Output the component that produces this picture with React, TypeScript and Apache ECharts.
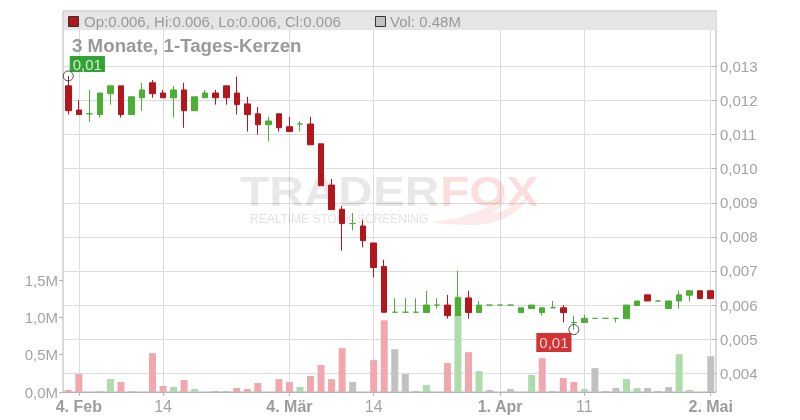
import React, { useEffect, useRef } from 'react';
import * as echarts from 'echarts';

const dates = [
  '2025-02-03', '2025-02-04', '2025-02-05', '2025-02-06', '2025-02-07', '2025-02-10', '2025-02-11', '2025-02-12', '2025-02-13', '2025-02-14',
  '2025-02-17', '2025-02-18', '2025-02-19', '2025-02-20', '2025-02-21', '2025-02-24', '2025-02-25', '2025-02-26', '2025-02-27', '2025-02-28',
  '2025-03-03', '2025-03-04', '2025-03-05', '2025-03-06', '2025-03-07', '2025-03-10', '2025-03-11', '2025-03-12', '2025-03-13', '2025-03-14',
  '2025-03-17', '2025-03-18', '2025-03-19', '2025-03-20', '2025-03-21', '2025-03-24', '2025-03-25', '2025-03-26', '2025-03-27', '2025-03-28',
  '2025-03-31', '2025-04-01', '2025-04-02', '2025-04-03', '2025-04-04', '2025-04-07', '2025-04-08', '2025-04-09', '2025-04-10', '2025-04-11',
  '2025-04-14', '2025-04-15', '2025-04-16', '2025-04-17', '2025-04-22', '2025-04-23', '2025-04-24', '2025-04-25', '2025-04-28', '2025-04-29',
  '2025-04-30', '2025-05-02',
];

const opens = [
  0.01243, 0.01172, 0.01161, 0.01159, 0.01220, 0.01243, 0.01159, 0.01208, 0.01252, 0.01222,
  0.01208, 0.01231, 0.01170, 0.01208, 0.01222, 0.01243, 0.01222, 0.01190, 0.01161, 0.01129,
  0.01161, 0.01123, 0.01131, 0.01131, 0.01073, 0.00952, 0.00881, 0.00839, 0.00832, 0.00782,
  0.00713, 0.00579, 0.00579, 0.00579, 0.00578, 0.00600, 0.00600, 0.00569, 0.00621, 0.00578,
  0.00600, 0.00600, 0.00600, 0.00578, 0.00590, 0.00578, 0.00592, 0.00592, 0.00548, 0.00549,
  0.00561, 0.00561, 0.00561, 0.00560, 0.00599, 0.00630, 0.00612, 0.00590, 0.00612, 0.00629,
  0.00642, 0.00642,
];
const highs = [
  0.01272, 0.01201, 0.01231, 0.01222, 0.01243, 0.01243, 0.01211, 0.01252, 0.01260, 0.01231,
  0.01243, 0.01252, 0.01211, 0.01231, 0.01231, 0.01243, 0.01270, 0.01211, 0.01181, 0.01152,
  0.01161, 0.01152, 0.01140, 0.01152, 0.01073, 0.00970, 0.00891, 0.00870, 0.00850, 0.00782,
  0.00733, 0.00620, 0.00620, 0.00620, 0.00642, 0.00620, 0.00630, 0.00701, 0.00642, 0.00612,
  0.00600, 0.00600, 0.00600, 0.00592, 0.00600, 0.00592, 0.00612, 0.00600, 0.00569, 0.00571,
  0.00561, 0.00561, 0.00561, 0.00600, 0.00612, 0.00630, 0.00612, 0.00612, 0.00642, 0.00642,
  0.00642, 0.00642,
];
const lows = [
  0.01159, 0.01159, 0.01137, 0.01150, 0.01188, 0.01150, 0.01159, 0.01170, 0.01208, 0.01208,
  0.01150, 0.01120, 0.01170, 0.01208, 0.01188, 0.01188, 0.01159, 0.01109, 0.01100, 0.01080,
  0.01109, 0.01109, 0.01109, 0.01070, 0.00950, 0.00880, 0.00760, 0.00819, 0.00769, 0.00681,
  0.00579, 0.00579, 0.00579, 0.00579, 0.00578, 0.00590, 0.00560, 0.00569, 0.00560, 0.00578,
  0.00600, 0.00600, 0.00600, 0.00578, 0.00590, 0.00569, 0.00592, 0.00549, 0.00528, 0.00549,
  0.00561, 0.00561, 0.00549, 0.00560, 0.00599, 0.00612, 0.00612, 0.00590, 0.00590, 0.00610,
  0.00619, 0.00619,
];
const closes = [
  0.01170, 0.01159, 0.01161, 0.01222, 0.01243, 0.01159, 0.01211, 0.01231, 0.01220, 0.01208,
  0.01231, 0.01170, 0.01211, 0.01222, 0.01208, 0.01208, 0.01188, 0.01159, 0.01129, 0.01140,
  0.01120, 0.01109, 0.01131, 0.01070, 0.00950, 0.00880, 0.00839, 0.00839, 0.00789, 0.00710,
  0.00579, 0.00579, 0.00579, 0.00579, 0.00600, 0.00600, 0.00569, 0.00621, 0.00578, 0.00600,
  0.00600, 0.00600, 0.00600, 0.00592, 0.00600, 0.00592, 0.00592, 0.00578, 0.00549, 0.00561,
  0.00561, 0.00561, 0.00561, 0.00600, 0.00612, 0.00612, 0.00612, 0.00612, 0.00630, 0.00642,
  0.00619, 0.00619,
];
const volumes = [
  27000, 240000, 0, 13000, 173000, 133000, 13000, 0, 520000, 80000,
  67000, 160000, 40000, 0, 13000, 13000, 53000, 40000, 120000, 0,
  173000, 133000, 67000, 213000, 360000, 173000, 587000, 133000, 0, 427000,
  960000, 573000, 240000, 13000, 93000, 0, 387000, 1280000, 533000, 280000,
  27000, 0, 40000, 0, 227000, 453000, 13000, 187000, 133000, 40000,
  320000, 13000, 53000, 173000, 53000, 53000, 13000, 67000, 507000, 27000,
  0, 480000,
];

const tickDates = ['2025-02-04', '2025-02-14', '2025-03-04', '2025-03-14', '2025-04-01', '2025-04-11', '2025-05-02'];
const monthNames = ['Jan', 'Feb', 'Mär', 'Apr', 'Mai', 'Jun', 'Jul', 'Aug', 'Sep', 'Okt', 'Nov', 'Dez'];
const volTicks = [0, 500000, 1000000, 1500000];
const titleText = '3 Monate, 1-Tages-Kerzen';

const FONT = '"Liberation Sans", Arial, Helvetica, sans-serif';
const RED = '#b3171b';
const GREEN = '#4cae33';
const VOL_RED = '#f0a7ae';
const VOL_GREEN = '#abdca9';
const VOL_FLAT = '#c1c1c1';
const GRIDLINE = '#dcdcdc';
const AXIS = '#b4b4b4';
const LABEL = '#a3a3a3';

export default function App() {
  const ref = useRef<HTMLDivElement>(null);

  useEffect(() => {
    if (!ref.current) return;
    const chart = echarts.init(ref.current, undefined, { renderer: 'svg' });

    const tailPath = 'M0 28 C25 26 55 16 75 2 C72 10 66 16 60 20 C75 16 88 10 98 0 C90 18 70 30 40 31 C25 31 10 30 0 28 Z';
    echarts.graphic.registerShape('foxTail', echarts.graphic.extendPath(tailPath, {}));

    const tickSet = new Set(tickDates);
    const labelMap: Record<string, string> = {};
    tickDates.forEach((d, i) => {
      const [, m, day] = d.split('-');
      const prevM = i > 0 ? tickDates[i - 1].split('-')[1] : '';
      const dd = String(parseInt(day, 10));
      labelMap[d] = m !== prevM ? `{b|${dd}. ${monthNames[parseInt(m, 10) - 1]}}` : dd;
    });
    const showTick = (_i: number, v: string) => tickSet.has(v);

    const candleData = dates.map((_, i) => [opens[i], closes[i], lows[i], highs[i]]);
    const volData = volumes.map((v, i) => {
      const prev = i > 0 ? closes[i - 1] : opens[0];
      const c = closes[i] > prev ? VOL_GREEN : closes[i] < prev ? VOL_RED : VOL_FLAT;
      return { value: v, itemStyle: { color: c } };
    });

    let hiIdx = 0;
    let loIdx = 0;
    highs.forEach((h, i) => { if (h > highs[hiIdx]) hiIdx = i; });
    lows.forEach((l, i) => { if (l < lows[loIdx]) loIdx = i; });
    const fmt2 = (v: number) => v.toFixed(2).replace('.', ',');

    const last = dates.length - 1;
    const f3 = (v: number) => v.toFixed(3);
    const headerText = `Op:${f3(opens[last])}, Hi:${f3(highs[last])}, Lo:${f3(lows[last])}, Cl:${f3(closes[last])}`;
    const volText = `Vol: ${(volumes[last] / 1e6).toFixed(2)}M`;
    const lastColor = closes[last] < opens[last] ? RED : GREEN;

    const gridBase = { left: 63, right: 84, bottom: 28, containLabel: false, outerBoundsMode: 'none' };

    const option: any = {
      animation: false,
      textStyle: { fontFamily: FONT },
      grid: [
        { ...gridBase, top: 11, show: true, borderColor: AXIS, borderWidth: 1, backgroundColor: 'transparent' },
        { ...gridBase, top: 33 },
        { ...gridBase, top: 280 },
      ],
      xAxis: [
        {
          type: 'category', gridIndex: 0, data: dates, boundaryGap: true,
          axisLine: { show: false }, axisTick: { show: false }, axisLabel: { show: false },
          splitLine: { show: true, interval: showTick, alignWithLabel: true, lineStyle: { color: GRIDLINE, width: 1 } },
        },
        {
          type: 'category', gridIndex: 1, data: dates, boundaryGap: true,
          axisLine: { show: false }, axisTick: { show: false }, axisLabel: { show: false }, splitLine: { show: false },
        },
        {
          type: 'category', gridIndex: 2, data: dates, boundaryGap: true,
          axisLine: { show: true, lineStyle: { color: AXIS } },
          axisTick: { show: true, interval: showTick, alignWithLabel: true, length: 4, lineStyle: { color: AXIS } },
          axisLabel: {
            show: true, interval: showTick, margin: 6, fontSize: 16, color: LABEL, fontFamily: FONT,
            formatter: (v: string) => labelMap[v] ?? '',
            rich: { b: { fontSize: 16, fontWeight: 'bold', color: '#9c9c9c', fontFamily: FONT } },
          },
          splitLine: { show: false },
        },
      ],
      yAxis: [
        { type: 'value', gridIndex: 0, show: false, min: 0, max: 1 },
        {
          type: 'value', gridIndex: 1, position: 'right', min: 0.00345, max: 0.01398,
          splitNumber: 10, minInterval: 0.001, maxInterval: 0.001,
          axisLine: { show: false },
          axisTick: { show: true, inside: true, length: 4, lineStyle: { color: AXIS } },
          axisLabel: {
            show: true, margin: 4, fontSize: 15, color: LABEL, fontFamily: FONT,
            showMinLabel: false, showMaxLabel: false,
            formatter: (v: number) => v.toFixed(3).replace('.', ','),
          },
          splitLine: { show: true, showMinLine: false, showMaxLine: false, lineStyle: { color: GRIDLINE, width: 1 } },
        },
        {
          type: 'value', gridIndex: 2, position: 'left', min: volTicks[0], max: volTicks[volTicks.length - 1],
          interval: volTicks[1] - volTicks[0],
          axisLine: { show: false },
          axisTick: { show: true, length: 4, lineStyle: { color: AXIS } },
          axisLabel: {
            show: true, margin: 5, fontSize: 15, color: LABEL, fontFamily: FONT,
            formatter: (v: number) => (v / 1e6).toFixed(1).replace('.', ',') + 'M',
          },
          splitLine: { show: false },
        },
      ],
      graphic: [
        {
          type: 'text', x: 240, y: 192, scaleX: 1.14, z: 1, silent: true,
          style: { text: 'TRADER', font: `bold 42px ${FONT}`, fill: 'rgba(0,0,0,0.09)', textVerticalAlign: 'middle' },
        },
        {
          type: 'text', x: 440, y: 192, scaleX: 1.14, z: 1, silent: true,
          style: { text: 'FOX', font: `bold 42px ${FONT}`, fill: 'rgba(230,40,40,0.15)', textVerticalAlign: 'middle' },
        },
        {
          type: 'foxTail', x: 432, y: 194, z: 1, silent: true,
          style: { fill: 'rgba(230,40,40,0.10)' },
        },
        {
          type: 'text', x: 250, y: 219, z: 1, silent: true,
          style: { text: 'REALTIME STOCK SCREENING', font: `12px ${FONT}`, fill: 'rgba(0,0,0,0.12)', textVerticalAlign: 'middle' },
        },
        {
          type: 'rect', z: 10, silent: true,
          shape: { x: 64, y: 12, width: 652, height: 18 },
          style: { fill: '#e5e5e5' },
        },
        {
          type: 'rect', z: 11, silent: true,
          shape: { x: 68.5, y: 16.5, width: 10, height: 10 },
          style: { fill: lastColor, stroke: '#333', lineWidth: 1 },
        },
        {
          type: 'text', x: 84, y: 21.5, z: 11, silent: true,
          style: { text: headerText, font: `15px ${FONT}`, fill: '#999', textVerticalAlign: 'middle' },
        },
        {
          type: 'rect', z: 11, silent: true,
          shape: { x: 375.5, y: 16.5, width: 10, height: 10 },
          style: { fill: VOL_FLAT, stroke: '#333', lineWidth: 1 },
        },
        {
          type: 'text', x: 390, y: 21.5, z: 11, silent: true,
          style: { text: volText, font: `15px ${FONT}`, fill: '#999', textVerticalAlign: 'middle' },
        },
        {
          type: 'text', x: 72, y: 46, z: 11, silent: true, scaleX: 1.04,
          style: { text: titleText, font: `bold 18px ${FONT}`, fill: '#999', textVerticalAlign: 'middle' },
        },
      ],
      series: [
        {
          type: 'bar', xAxisIndex: 2, yAxisIndex: 2, data: volData, barWidth: 7, z: 2, silent: true,
          emphasis: { disabled: true },
        },
        {
          type: 'candlestick', xAxisIndex: 1, yAxisIndex: 1, data: candleData, barWidth: 6, z: 3, silent: true,
          itemStyle: { color: GREEN, color0: RED, borderColor: GREEN, borderColor0: RED, borderWidth: 1 },
          emphasis: { disabled: true },
        },
        {
          type: 'scatter', xAxisIndex: 1, yAxisIndex: 1, symbol: 'circle', symbolSize: 10, z: 5, silent: true,
          itemStyle: { color: 'rgba(0,0,0,0)', borderColor: '#222', borderWidth: 1 },
          emphasis: { disabled: true },
          data: [
            {
              value: [hiIdx, highs[hiIdx]],
              label: {
                show: true, formatter: fmt2(highs[hiIdx]), position: [7, -14.5], color: '#fff',
                backgroundColor: '#008c00', padding: [1, 3, 0, 3], fontSize: 15, lineHeight: 15, fontFamily: FONT,
              },
            },
            {
              value: [loIdx, lows[loIdx]],
              label: {
                show: true, formatter: fmt2(lows[loIdx]), position: [-32, 9], color: '#fff',
                backgroundColor: '#c80000', padding: [2, 3, 2, 3], fontSize: 15, lineHeight: 15, fontFamily: FONT,
              },
            },
          ],
        },
      ],
    };

    chart.setOption(option);
    return () => chart.dispose();
  }, []);

  return <div ref={ref} style={{ position: 'fixed', left: 0, top: 0, width: 800, height: 420 }} />;
}
